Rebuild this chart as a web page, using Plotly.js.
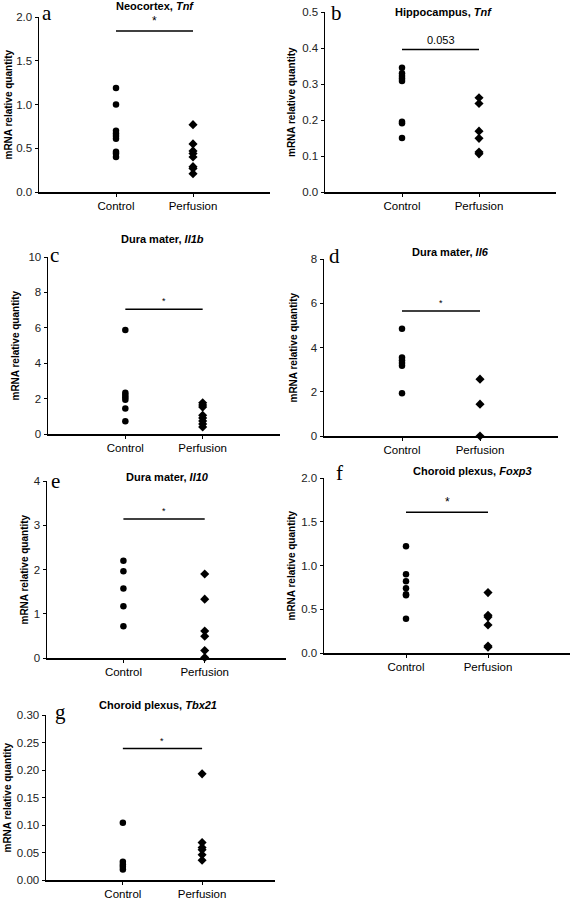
<!DOCTYPE html>
<html>
<head>
<meta charset="utf-8">
<script src="https://cdn.plot.ly/plotly-3.0.1.min.js"></script>
<style>html,body{margin:0;padding:0;background:#fff;}#chart{width:572px;height:900px;}</style>
</head>
<body>
<div id="chart"></div>
<script>
// ---- data ----
const categories = ['Control', 'Perfusion'];
const panelLetters = ['a', 'b', 'c', 'd', 'e', 'f', 'g'];
const panelTitles = ['Neocortex, <i>Tnf</i>', 'Hippocampus, <i>Tnf</i>', 'Dura mater, <i>Il1b</i>',
  'Dura mater, <i>Il6</i>', 'Dura mater, <i>Il10</i>', 'Choroid plexus, <i>Foxp3</i>', 'Choroid plexus, <i>Tbx21</i>'];

const aControl   = [1.19, 1.00, 0.70, 0.67, 0.64, 0.61, 0.46, 0.44, 0.40];
const aPerfusion = [0.77, 0.55, 0.47, 0.44, 0.40, 0.29, 0.27, 0.21];
const bControl   = [0.345, 0.330, 0.322, 0.315, 0.308, 0.195, 0.191, 0.150];
const bPerfusion = [0.262, 0.246, 0.169, 0.149, 0.111, 0.106];
const cControl   = [5.88, 2.33, 2.20, 2.07, 1.94, 1.44, 0.72];
const cPerfusion = [1.76, 1.64, 1.52, 1.06, 0.91, 0.74, 0.57, 0.40];
const dControl   = [4.85, 3.55, 3.42, 3.30, 3.18, 1.93];
const dPerfusion = [2.57, 1.44, 0.0];
const eControl   = [2.20, 1.96, 1.57, 1.17, 0.72];
const ePerfusion = [1.90, 1.33, 0.61, 0.49, 0.17, 0.01];
const fControl   = [1.22, 0.90, 0.82, 0.74, 0.67, 0.66, 0.39];
const fPerfusion = [0.69, 0.43, 0.41, 0.32, 0.08, 0.065];
const gControl   = [0.104, 0.033, 0.028, 0.024, 0.019];
const gPerfusion = [0.193, 0.068, 0.059, 0.055, 0.046, 0.036];

const yMax      = [2.0, 0.5, 10, 8, 4, 2.0, 0.30];
const yStep     = [0.5, 0.1, 2, 2, 1, 0.5, 0.05];
const yFormat   = ['.1f', '.1f', 'd', 'd', 'd', '.1f', '.2f'];
const sigLevel  = [1.84, 0.396, 7.05, 5.65, 3.14, 1.61, 0.239];
const sigLabel  = ['*', '0.053', '*', '*', '*', '*', '*'];

const controls   = [aControl, bControl, cControl, dControl, eControl, fControl, gControl];
const perfusions = [aPerfusion, bPerfusion, cPerfusion, dPerfusion, ePerfusion, fPerfusion, gPerfusion];

// ---- layout geometry (pixels) ----
const W = 572, H = 900;
const boxes = [ // [left, right, top, bottom, xmin, xmax]
  [39, 270, 17, 192, 0, 3],
  [325, 556, 12, 192, 0, 3],
  [48, 280, 257, 434, 0, 3],
  [324, 558, 259, 436, 0, 3],
  [47, 286, 481, 658, 0.06, 3.0],
  [324, 570, 478, 653, 0, 3],
  [46, 275, 715, 880, 0.03, 2.92]
];
const titlePos  = [[155, 6], [443, 12], [162, 239], [450, 252], [167, 477], [473, 471], [158, 705]];
const letterPos = [[47, 13], [336, 13], [54, 255], [334, 256], [55, 481], [339, 473], [60, 712]];
const ylabX     = [8, 292, 15, 293, 24, 291, 7];
const sigSize   = [12, 11, 9, 9, 9, 12, 9];

const FONT = "'Liberation Sans', Arial, Helvetica, sans-serif";
const traces = [];
const layout = {
  width: W, height: H, margin: {l: 0, r: 0, t: 0, b: 0},
  paper_bgcolor: '#fff', plot_bgcolor: 'rgba(0,0,0,0)',
  showlegend: false, font: {family: FONT, color: '#000'},
  annotations: [], shapes: []
};

for (let i = 0; i < 7; i++) {
  const n = i === 0 ? '' : String(i + 1);
  const [l, r, t, b, xmin, xmax] = boxes[i];
  traces.push({
    type: 'scatter', mode: 'markers', xaxis: 'x' + n, yaxis: 'y' + n, cliponaxis: false,
    x: controls[i].map(() => 1), y: controls[i],
    marker: {symbol: 'circle', size: 6.5, color: '#000'}, hoverinfo: 'y'
  });
  traces.push({
    type: 'scatter', mode: 'markers', xaxis: 'x' + n, yaxis: 'y' + n, cliponaxis: false,
    x: perfusions[i].map(() => 2), y: perfusions[i],
    marker: {symbol: 'diamond', size: 7, color: '#000'}, hoverinfo: 'y'
  });
  layout['xaxis' + n] = {
    domain: [l / W, r / W], range: [xmin, xmax], anchor: 'y' + n,
    tickmode: 'array', tickvals: [1, 2], ticktext: categories,
    showline: true, linecolor: '#000', linewidth: 1.5,
    ticks: 'outside', ticklen: 3, tickcolor: '#000', tickwidth: 1,
    showgrid: false, zeroline: false, fixedrange: true,
    tickfont: {family: FONT, size: 11.5, color: '#000'}
  };
  layout['yaxis' + n] = {
    domain: [1 - b / H, 1 - t / H], range: [0, yMax[i]], anchor: 'x' + n,
    tick0: 0, dtick: yStep[i], tickformat: yFormat[i],
    showline: true, linecolor: '#000', linewidth: 1.5,
    ticks: 'outside', ticklen: 3, tickcolor: '#000', tickwidth: 1,
    showgrid: false, zeroline: false, fixedrange: true,
    tickfont: {family: FONT, size: 11.5, color: '#222'}
  };
  // significance bar
  layout.shapes.push({
    type: 'line', xref: 'x' + n, yref: 'y' + n, x0: 1, x1: 2,
    y0: sigLevel[i], y1: sigLevel[i], line: {color: '#000', width: 1.5}
  });
  layout.annotations.push({
    xref: 'x' + n, yref: 'y' + n, x: 1.5, y: sigLevel[i], yanchor: 'bottom',
    text: sigLabel[i], showarrow: false, yshift: 1,
    font: {family: FONT, size: sigSize[i], color: '#000'}
  });
  // panel title
  layout.annotations.push({
    xref: 'paper', yref: 'paper', x: titlePos[i][0] / W, y: 1 - titlePos[i][1] / H,
    xanchor: 'center', yanchor: 'middle', showarrow: false,
    text: '<b>' + panelTitles[i] + '</b>', font: {family: FONT, size: 11, color: '#000'}
  });
  // panel letter
  layout.annotations.push({
    xref: 'paper', yref: 'paper', x: letterPos[i][0] / W, y: 1 - letterPos[i][1] / H,
    xanchor: 'center', yanchor: 'middle', showarrow: false,
    text: panelLetters[i], font: {family: "'Liberation Serif', 'Times New Roman', serif", size: 21, color: '#000'}
  });
  // y axis title
  layout.annotations.push({
    xref: 'paper', yref: 'paper', x: ylabX[i] / W, y: 1 - ((t + b) / 2) / H,
    xanchor: 'center', yanchor: 'middle', showarrow: false, textangle: -90,
    text: '<b>mRNA relative quantity</b>', font: {family: FONT, size: 10, color: '#000'}
  });
}

Plotly.newPlot('chart', traces, layout, {staticPlot: true, displayModeBar: false});
</script>
</body>
</html>
